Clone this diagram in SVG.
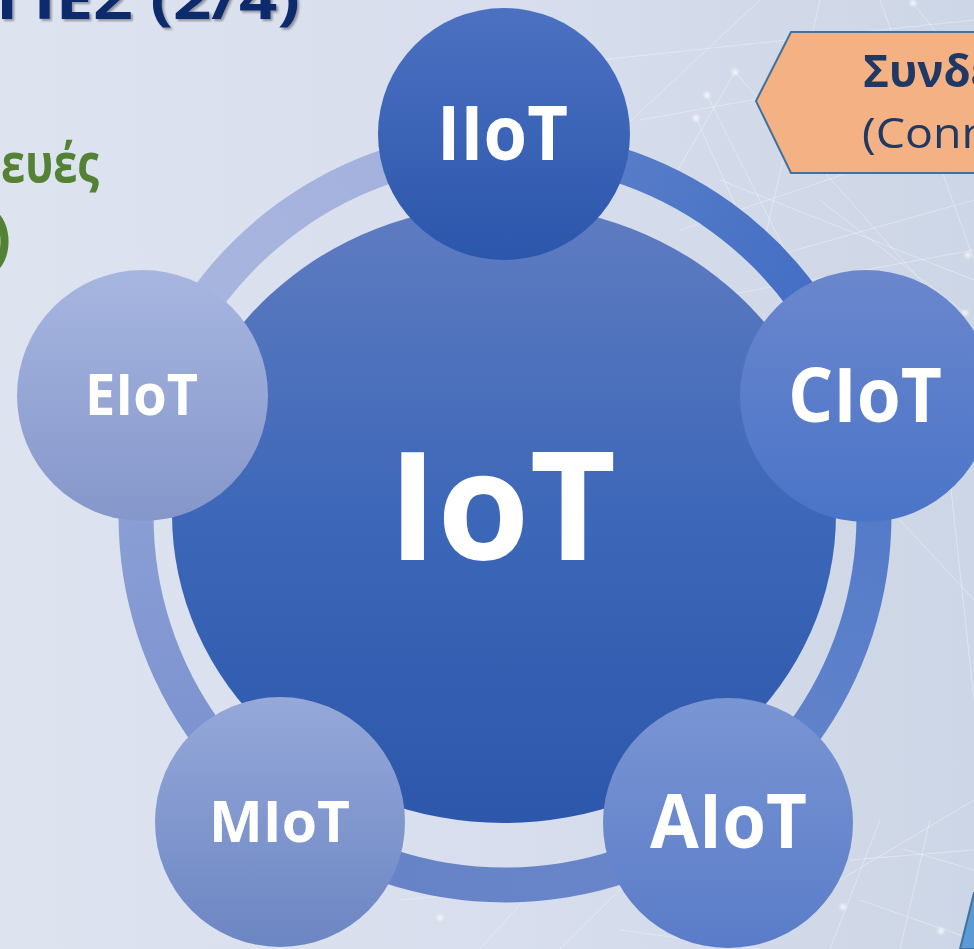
<svg xmlns="http://www.w3.org/2000/svg" width="974" height="949" viewBox="0 0 974 949">
<defs>
<style>
.bold{font-family:"Open Sans","Noto Sans","DejaVu Sans",sans-serif;font-weight:700}
.reg{font-family:"Open Sans","Noto Sans","DejaVu Sans",sans-serif;font-weight:400}
.lbl{fill:#ffffff}
.net{stroke:#ffffff;stroke-width:1;opacity:0.35;fill:none}
.dot{fill:#ffffff;opacity:0.7}
.ring{fill:none;stroke-width:35}
</style>
<linearGradient id="bg" x1="0" y1="0" x2="1" y2="0">
<stop offset="0" stop-color="#dee3f0"/>
<stop offset="0.5" stop-color="#d8deed"/>
<stop offset="1" stop-color="#cdd6e6"/>
</linearGradient>
<linearGradient id="gIoT" x1="0" y1="0" x2="0" y2="1">
<stop offset="0" stop-color="#5f7cc1"/>
<stop offset="0.5" stop-color="#3d67b8"/>
<stop offset="1" stop-color="#2c57ab"/>
</linearGradient>
<linearGradient id="gIIoT" x1="0" y1="0" x2="0" y2="1">
<stop offset="0" stop-color="#4c71c2"/>
<stop offset="1" stop-color="#2b56ab"/>
</linearGradient>
<linearGradient id="gCIoT" x1="0" y1="0" x2="0" y2="1">
<stop offset="0" stop-color="#6b87cd"/>
<stop offset="1" stop-color="#4a74c8"/>
</linearGradient>
<linearGradient id="gAIoT" x1="0" y1="0" x2="0" y2="1">
<stop offset="0" stop-color="#7a95d3"/>
<stop offset="1" stop-color="#5a7cc8"/>
</linearGradient>
<linearGradient id="gMIoT" x1="0" y1="0" x2="0" y2="1">
<stop offset="0" stop-color="#95a8d9"/>
<stop offset="1" stop-color="#6c86c3"/>
</linearGradient>
<linearGradient id="gEIoT" x1="0" y1="0" x2="0" y2="1">
<stop offset="0" stop-color="#a7b6e0"/>
<stop offset="1" stop-color="#8596ca"/>
</linearGradient>
<linearGradient id="r1" gradientUnits="userSpaceOnUse" x1="505" y1="147" x2="856" y2="402">
<stop offset="0" stop-color="#6083cb"/>
<stop offset="1" stop-color="#3a68c2"/>
</linearGradient>
<linearGradient id="r2" gradientUnits="userSpaceOnUse" x1="856" y1="402" x2="722" y2="815">
<stop offset="0" stop-color="#4f78c8"/>
<stop offset="1" stop-color="#6585cb"/>
</linearGradient>
<linearGradient id="r3" gradientUnits="userSpaceOnUse" x1="722" y1="815" x2="288" y2="815">
<stop offset="0" stop-color="#6a86ca"/>
<stop offset="1" stop-color="#6682c6"/>
</linearGradient>
<linearGradient id="r4" gradientUnits="userSpaceOnUse" x1="288" y1="815" x2="154" y2="402">
<stop offset="0" stop-color="#778fce"/>
<stop offset="1" stop-color="#90a2d7"/>
</linearGradient>
<linearGradient id="r5" gradientUnits="userSpaceOnUse" x1="154" y1="402" x2="505" y2="147">
<stop offset="0" stop-color="#a8b6df"/>
<stop offset="1" stop-color="#a2b0dc"/>
</linearGradient>
<filter id="shadow" x="-10%" y="-50%" width="120%" height="200%">
<feDropShadow dx="2" dy="2" stdDeviation="1.2" flood-color="#000000" flood-opacity="0.35"/>
</filter>
<filter id="glow" x="-200%" y="-200%" width="500%" height="500%">
<feGaussianBlur stdDeviation="1.5"/>
</filter>
</defs>

<rect x="0" y="0" width="974" height="949" fill="url(#bg)"/>

<g id="network">
<path class="net" d="M610 140 L760 0 M640 120 L974 60 M680 230 L974 130 M707 95 L850 380 M735 72 L974 340 M696 118 L760 260 M760 260 L974 200 M820 0 L760 260 M913 3 L974 80 M880 0 L974 260 M965 313 L820 200 M700 300 L974 250 M720 180 L974 280 M600 60 L974 20 M660 200 L735 72 M860 330 L974 420 M900 520 L974 600 M950 480 L974 700 M850 860 L974 850 M880 820 L830 949 M930 820 L900 949 M860 900 L974 940 M840 880 L974 800 M400 900 L620 880 M480 949 L560 860 M560 949 L640 870 M620 930 L760 949 M903 849 L974 870"/>
<g filter="url(#glow)">
<circle class="dot" cx="735" cy="72" r="3"/>
<circle class="dot" cx="707" cy="95" r="3"/>
<circle class="dot" cx="696" cy="118" r="3"/>
<circle class="dot" cx="913" cy="3" r="3"/>
<circle class="dot" cx="968" cy="255" r="3"/>
<circle class="dot" cx="965" cy="313" r="3"/>
<circle class="dot" cx="843" cy="907" r="3"/>
<circle class="dot" cx="941" cy="931" r="3"/>
<circle class="dot" cx="440" cy="918" r="3"/>
</g>
</g>

<g id="title">
<text class="bold" x="-4" y="19" font-size="56" fill="#0e2a6c" filter="url(#shadow)" textLength="304" lengthAdjust="spacingAndGlyphs">ΓΙΕΣ (2/4)</text>
</g>
<g id="subtitle">
<text class="bold" x="1" y="182" font-size="54" fill="#548235" textLength="98" lengthAdjust="spacingAndGlyphs">ευές</text>
<text class="bold" x="-10" y="259" font-size="62" fill="#548235">)</text>
</g>

<g id="callout">
<polygon points="791,32 980,32 980,173 791,173 756,101" fill="#f4b183" stroke="#41719c" stroke-width="2"/>
<text class="bold" x="863" y="87" font-size="45" fill="#1f3864" textLength="132" lengthAdjust="spacingAndGlyphs">Συνδε</text>
<text class="reg" x="862" y="148" font-size="42" fill="#1f3864" textLength="128" lengthAdjust="spacingAndGlyphs">(Conn</text>
</g>

<g id="corner-shape">
<polygon points="974,893 960,949 980,949 980,893" fill="#5b9bd5" stroke="#41719c" stroke-width="2"/>
</g>

<g id="connectors">
<path class="ring" stroke="url(#r1)" d="M505 147 A369 369 0 0 1 855.9 402"/>
<path class="ring" stroke="url(#r2)" d="M855.9 402 A369 369 0 0 1 721.9 814.5"/>
<path class="ring" stroke="url(#r3)" d="M721.9 814.5 A369 369 0 0 1 288.1 814.5"/>
<path class="ring" stroke="url(#r4)" d="M288.1 814.5 A369 369 0 0 1 154.1 402"/>
<path class="ring" stroke="url(#r5)" d="M154.1 402 A369 369 0 0 1 505 147"/>
</g>

<g id="node-IoT">
<ellipse cx="504" cy="514" rx="332" ry="309" fill="url(#gIoT)"/>
<text class="bold lbl" x="388" y="560" font-size="151" textLength="228" lengthAdjust="spacingAndGlyphs">IoT</text>
</g>

<g id="node-IIoT">
<circle cx="504" cy="134" r="126" fill="url(#gIIoT)"/>
<text class="bold lbl" x="437" y="160" font-size="76" textLength="131" lengthAdjust="spacingAndGlyphs">IIoT</text>
</g>

<g id="node-CIoT">
<circle cx="866" cy="396" r="126" fill="url(#gCIoT)"/>
<text class="bold lbl" x="788" y="422" font-size="76" textLength="154" lengthAdjust="spacingAndGlyphs">CIoT</text>
</g>

<g id="node-AIoT">
<circle cx="728" cy="823" r="125" fill="url(#gAIoT)"/>
<text class="bold lbl" x="650" y="848" font-size="76" textLength="157" lengthAdjust="spacingAndGlyphs">AIoT</text>
</g>

<g id="node-MIoT">
<circle cx="280" cy="822" r="125" fill="url(#gMIoT)"/>
<text class="bold lbl" x="209" y="842" font-size="58" textLength="141" lengthAdjust="spacingAndGlyphs">MIoT</text>
</g>

<g id="node-EIoT">
<circle cx="142.5" cy="395.5" r="125.5" fill="url(#gEIoT)"/>
<text class="bold lbl" x="85" y="415" font-size="58" textLength="113" lengthAdjust="spacingAndGlyphs">EIoT</text>
</g>
</svg>
